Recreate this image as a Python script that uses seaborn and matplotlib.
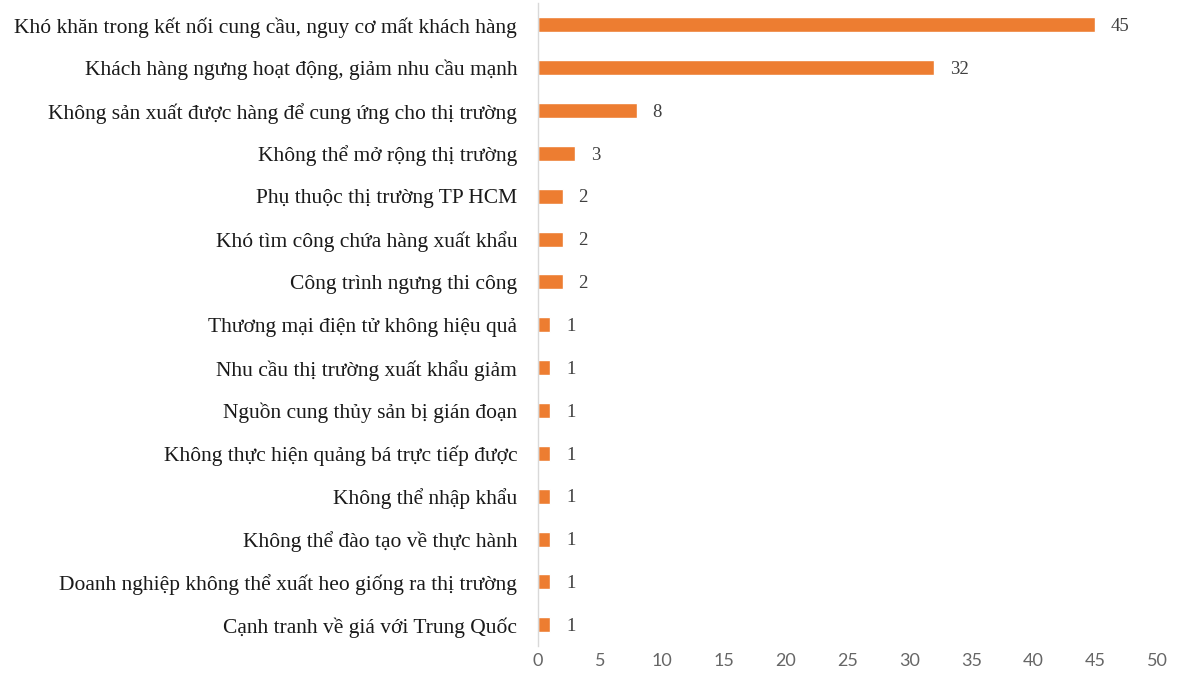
import pandas as pd
import matplotlib.pyplot as plt
import seaborn as sns

# Data
categories = [
    "Khó khăn trong kết nối cung cầu, nguy cơ mất khách hàng",
    "Khách hàng ngưng hoạt động, giảm nhu cầu mạnh",
    "Không sản xuất được hàng để cung ứng cho thị trường",
    "Không thể mở rộng thị trường",
    "Phụ thuộc thị trường TP HCM",
    "Khó tìm công chứa hàng xuất khẩu",
    "Công trình ngưng thi công",
    "Thương mại điện tử không hiệu quả",
    "Nhu cầu thị trường xuất khẩu giảm",
    "Nguồn cung thủy sản bị gián đoạn",
    "Không thực hiện quảng bá trực tiếp được",
    "Không thể nhập khẩu",
    "Không thể đào tạo về thực hành",
    "Doanh nghiệp không thể xuất heo giống ra thị trường",
    "Cạnh tranh về giá với Trung Quốc",
]
values = [45, 32, 8, 3, 2, 2, 2, 1, 1, 1, 1, 1, 1, 1, 1]
x_ticks = [0, 5, 10, 15, 20, 25, 30, 35, 40, 45, 50]

df = pd.DataFrame({"category": categories, "value": values})

sns.set_style("white")

fig = plt.figure(figsize=(11.8, 6.81), dpi=100)
ax = fig.add_axes([0.456, 0.051, 0.5245, 0.944])

sns.barplot(data=df, x="value", y="category", orient="h", color="#ED7D31",
            saturation=1, width=0.35, ax=ax)

# Value labels
for i, v in enumerate(values):
    ax.text(v + 1.25, i + 0.04, str(v), va="center", ha="left", fontsize=13.5,
            family="Liberation Serif", color="#404040")

ax.set_xlim(0, 50)
ax.set_ylim(14.5, -0.5)
ax.set_xticks(x_ticks)
ax.set_xticklabels([str(t) for t in x_ticks], family="Lato", fontsize=13,
                   color="#666666")
ax.set_yticks(range(len(categories)))
ax.set_yticklabels(categories, family="Liberation Serif", fontsize=15.5,
                   color="#1a1a1a")
ax.tick_params(axis="both", length=0)
ax.tick_params(axis="x", pad=5)
ax.tick_params(axis="y", pad=15)
ax.set_xlabel("")
ax.set_ylabel("")

for s in ["top", "right", "bottom"]:
    ax.spines[s].set_visible(False)
ax.spines["left"].set_color("#d9d9d9")
ax.spines["left"].set_linewidth(1)

fig.savefig("out.png", dpi=100)
